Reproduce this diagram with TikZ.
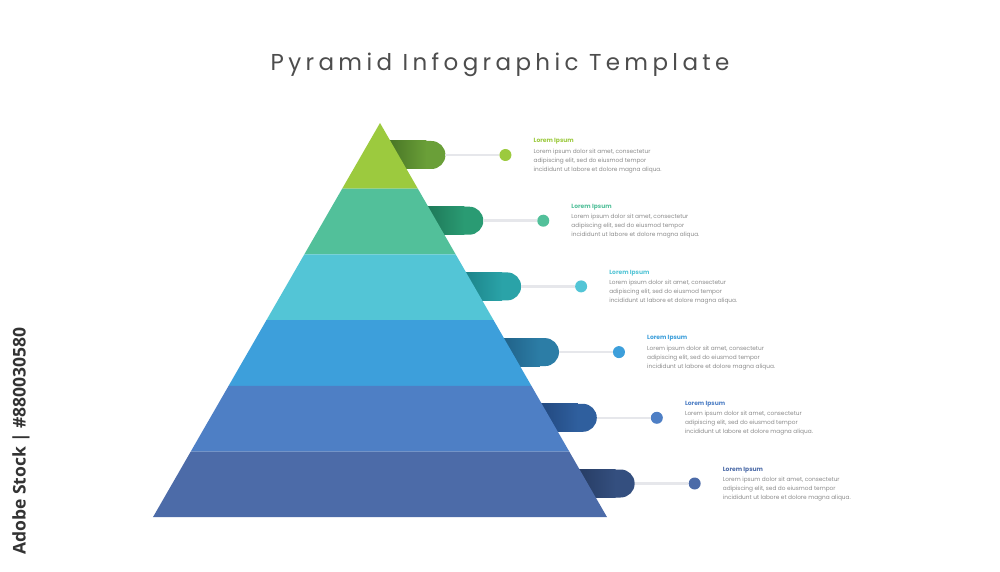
\documentclass[tikz,border=0pt]{standalone}
\usepackage{fontspec}
\setmainfont{Poppins}
\newfontfamily\titlefont[LetterSpace=19]{Poppins}
\newfontfamily\stockfont{Open Sans}
\usepackage{tikz}
\usetikzlibrary{positioning,calc}

\definecolor{bandA}{HTML}{9CCA3E}
\definecolor{bandB}{HTML}{52C09A}
\definecolor{bandC}{HTML}{53C5D6}
\definecolor{bandD}{HTML}{3D9FDB}
\definecolor{bandE}{HTML}{4E7FC5}
\definecolor{bandF}{HTML}{4C6BA8}
\definecolor{tabA}{HTML}{6A9F38}
\definecolor{tabB}{HTML}{2A9B73}
\definecolor{tabC}{HTML}{2AA3A8}
\definecolor{tabD}{HTML}{2C7DA6}
\definecolor{tabE}{HTML}{2F5F9E}
\definecolor{tabF}{HTML}{344F7F}
\definecolor{darkA}{HTML}{3F6A20}
\definecolor{darkB}{HTML}{1A6E50}
\definecolor{darkC}{HTML}{187A80}
\definecolor{darkD}{HTML}{1D5A80}
\definecolor{darkE}{HTML}{1E4276}
\definecolor{darkF}{HTML}{23375C}
\definecolor{linegray}{HTML}{E6E7EB}
\definecolor{textgray}{HTML}{8C8C8C}
\definecolor{titlegray}{HTML}{4D4D4D}

\tikzset{
  dotnode/.style={circle, minimum size=12pt, inner sep=0pt},
  link/.style={draw=linegray, line width=2.5pt},
  headtext/.style={font=\bfseries\fontsize{6}{8}\selectfont, inner sep=0pt},
  bodytext/.style={font=\fontsize{5.8}{9}\selectfont, text=textgray, align=left, inner sep=0pt}
}

\begin{document}
\begin{tikzpicture}[x=1pt,y=-1pt]
    \useasboundingbox (0,0) rectangle (1000,572);
    \fill[white] (0,0) rectangle (1000,572);

    % Title
    \node[text=titlegray, anchor=base] (title) at (500,70.5) {\titlefont\fontsize{23}{27}\selectfont Pyramid Infographic Template};

    % Stock mark
    \node[rotate=90, text=black!80] (stock) at (21,441) {\stockfont\bfseries\fontsize{17.5}{20}\selectfont Adobe Stock | \#880030580};

    % Draw tabs, links and texts
    \foreach \i/\band/\tabc/\dark in {0/bandA/tabA/darkA,1/bandB/tabB/darkB,2/bandC/tabC/darkC,3/bandD/tabD/darkD,4/bandE/tabE/darkE,5/bandF/tabF/darkF} {
        \pgfmathsetmacro{\yc}{155+65.7*\i}
        \pgfmathsetmacro{\xe}{380+0.576*(\yc-123)}
        \pgfmathsetmacro{\xr}{\xe+47}
        \fill[\tabc, rounded corners=14pt] (\xe-20,\yc-14) -- (\xr,\yc-14) -- (\xr,\yc+14) -- (\xe-20,\yc+14) -- cycle;
        \shade[left color=\dark, right color=\tabc] (\xe-20,\yc-14) rectangle (\xe+28,\yc+14);
        \coordinate (tabend\i) at (\xr,\yc);
        \node[dotnode, fill=\band] (dot\i) at (\xr+60,\yc) {};
        \draw[link] (tabend\i) -- (dot\i);
        \node[headtext, text=\band, anchor=west] (head\i) at (\xr+88,\yc-13.5) {Lorem Ipsum};
        \node[bodytext, anchor=north west] (body\i) at (\xr+88,\yc-6.5) {Lorem ipsum dolor sit amet, consectetur\\adipiscing elit, sed do eiusmod tempor\\incididunt ut labore et dolore magna aliqua.};
    }

    % Draw pyramid bands
    \foreach \i/\band in {0/bandA,1/bandB,2/bandC,3/bandD,4/bandE,5/bandF} {
        \pgfmathsetmacro{\yt}{123+65.7*\i}
        \pgfmathsetmacro{\yb}{\yt+65.7}
        \pgfmathsetmacro{\xtl}{380-0.576*(\yt-123)}
        \pgfmathsetmacro{\xtr}{380+0.576*(\yt-123)}
        \pgfmathsetmacro{\xbl}{380-0.576*(\yb-123)}
        \pgfmathsetmacro{\xbr}{380+0.576*(\yb-123)}
        \fill[\band] (\xtl,\yt) -- (\xtr,\yt) -- (\xbr,\yb) -- (\xbl,\yb) -- cycle;
    }
\end{tikzpicture}
\end{document}
